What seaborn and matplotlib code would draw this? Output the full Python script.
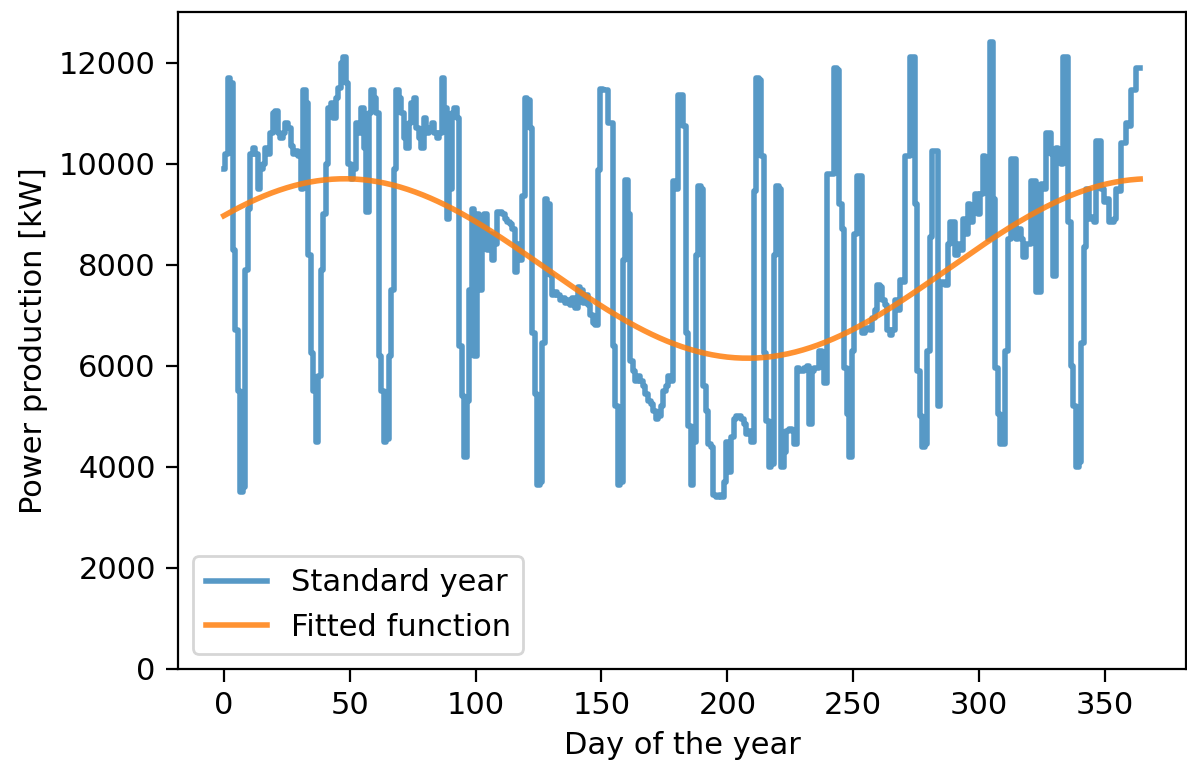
import numpy as np
import pandas as pd
import matplotlib
matplotlib.use("Agg")
import matplotlib.pyplot as plt
import seaborn as sns

# Daily power production of the "standard year" [kW], day 0..364
power_kw = [
    9900, 10200, 11700, 11600, 8300, 6700, 5500, 3500, 3600, 7900,
    9100, 10200, 10300, 10200, 9500, 9900, 10000, 10300, 10200, 10600,
    11000, 11050, 10600, 10500, 10600, 10800, 10700, 10350, 10200, 10250,
    10150, 9500, 11450, 11200, 8200, 6250, 5500, 4500, 5800, 7900,
    9000, 10000, 11100, 11200, 10900, 11300, 11500, 12000, 12100, 11600,
    10000, 9700, 9900, 10800, 10600, 11100, 10300, 9050, 11000, 11450,
    11300, 11000, 6200, 5500, 4500, 4550, 6200, 7500, 9900, 11450,
    11300, 11000, 10500, 10300, 10800, 11200, 11300, 10700, 10500, 10300,
    10900, 10600, 10700, 10800, 10600, 10500, 10600, 11700, 11100, 8900,
    9500, 11000, 11100, 10900, 6400, 5400, 4200, 5300, 7500, 9100,
    6200, 9000, 7500, 8600, 9000, 8300, 8600, 8100, 8400, 9050,
    9050, 9000, 8900, 8850, 8800, 8700, 7850, 8400, 8100, 9350,
    11300, 11250, 10700, 6650, 5450, 3650, 3700, 6450, 9300, 9200,
    7800, 7400, 7450, 7400, 7300, 7350, 7250, 7300, 7200, 7350,
    7150, 7550, 7500, 7250, 7400, 7200, 7000, 6850, 6800, 9880,
    11470, 11450, 11450, 10800, 10800, 6400, 5200, 3650, 3700, 8100,
    9680, 9000, 6100, 5900, 5700, 5800, 5700, 5600, 5450, 5300,
    5250, 5100, 4950, 5000, 5200, 5500, 5600, 5800, 5700, 9650,
    9500, 11350, 11350, 10750, 6650, 4800, 3650, 4500, 8200, 9550,
    9500, 5600, 5100, 4450, 4400, 3450, 3400, 3450, 3400, 3700,
    4500, 3900, 4600, 4950, 5000, 5000, 4950, 4850, 4650, 4700,
    4500, 9450, 11700, 11650, 10150, 6250, 4900, 4000, 4050, 8200,
    9550, 9500, 4000, 4300, 4700, 4750, 4700, 4450, 5950, 5900,
    5900, 5950, 6000, 4850, 5900, 5950, 5950, 6300, 6000, 5650,
    9800, 9800, 9800, 11900, 11850, 9200, 8700, 5950, 5050, 4200,
    6300, 8600, 9750, 9750, 6650, 6700, 6750, 6700, 6950, 7100,
    7600, 7550, 7300, 7200, 6700, 6600, 6700, 7300, 7100, 7700,
    7650, 10150, 10150, 12100, 12100, 9200, 5900, 5000, 4400, 4450,
    6300, 8550, 10250, 10250, 5200, 7650, 7650, 7600, 8400, 8850,
    8850, 8200, 8400, 8300, 8900, 8600, 9200, 8850, 9050, 9400,
    9000, 9400, 10150, 10100, 8500, 12400, 9300, 5950, 5050, 4450,
    4450, 6300, 8500, 10100, 10100, 8500, 8700, 8500, 8150, 8400,
    8400, 9650, 9650, 7450, 7450, 9600, 9500, 10600, 10600, 10200,
    7770, 10300, 10200, 10000, 12100, 12100, 8850, 6000, 5200, 4000,
    4100, 6450, 8350, 9500, 8900, 8950, 8850, 10450, 10450, 9500,
    9250, 9300, 8850, 8850, 8900, 9500, 9450, 10400, 10400, 10800,
    10750, 11450, 11450, 11900, 11900,
]
days = list(range(len(power_kw)))

# Fitted sine function parameters
fit_mean = 7925.0
fit_amplitude = 1775.0
fit_period = 320.0
fit_peak_day = 48.0

fitted_kw = [fit_mean + fit_amplitude * np.cos(2 * np.pi * (d - fit_peak_day) / fit_period)
             for d in days]

df = pd.DataFrame({"day": days, "power": power_kw, "fit": fitted_kw})

plt.rcParams["font.size"] = 11
plt.rcParams["xtick.major.size"] = 4.5
plt.rcParams["ytick.major.size"] = 4.5

fig = plt.figure(figsize=(1187 / 200, 764 / 200), dpi=200)
ax = fig.add_axes([178 / 1187, 1 - 669 / 764, (1186 - 178) / 1187, (669 - 12) / 764])

sns.lineplot(data=df, x="day", y="power", ax=ax, color="#1f77b4", alpha=0.75,
             linewidth=2.0, drawstyle="steps-mid", label="Standard year")
sns.lineplot(data=df, x="day", y="fit", ax=ax, color="#ff7f0e", alpha=0.85,
             linewidth=2.0, label="Fitted function")

ax.set_ylim(0, 13000)
ax.set_yticks(range(0, 12001, 2000))
ax.set_xticks(range(0, 351, 50))
ax.set_xlabel("Day of the year")
ax.set_ylabel("Power production [kW]")
ax.legend(loc="lower left")

fig.savefig("out.png", dpi=200)
